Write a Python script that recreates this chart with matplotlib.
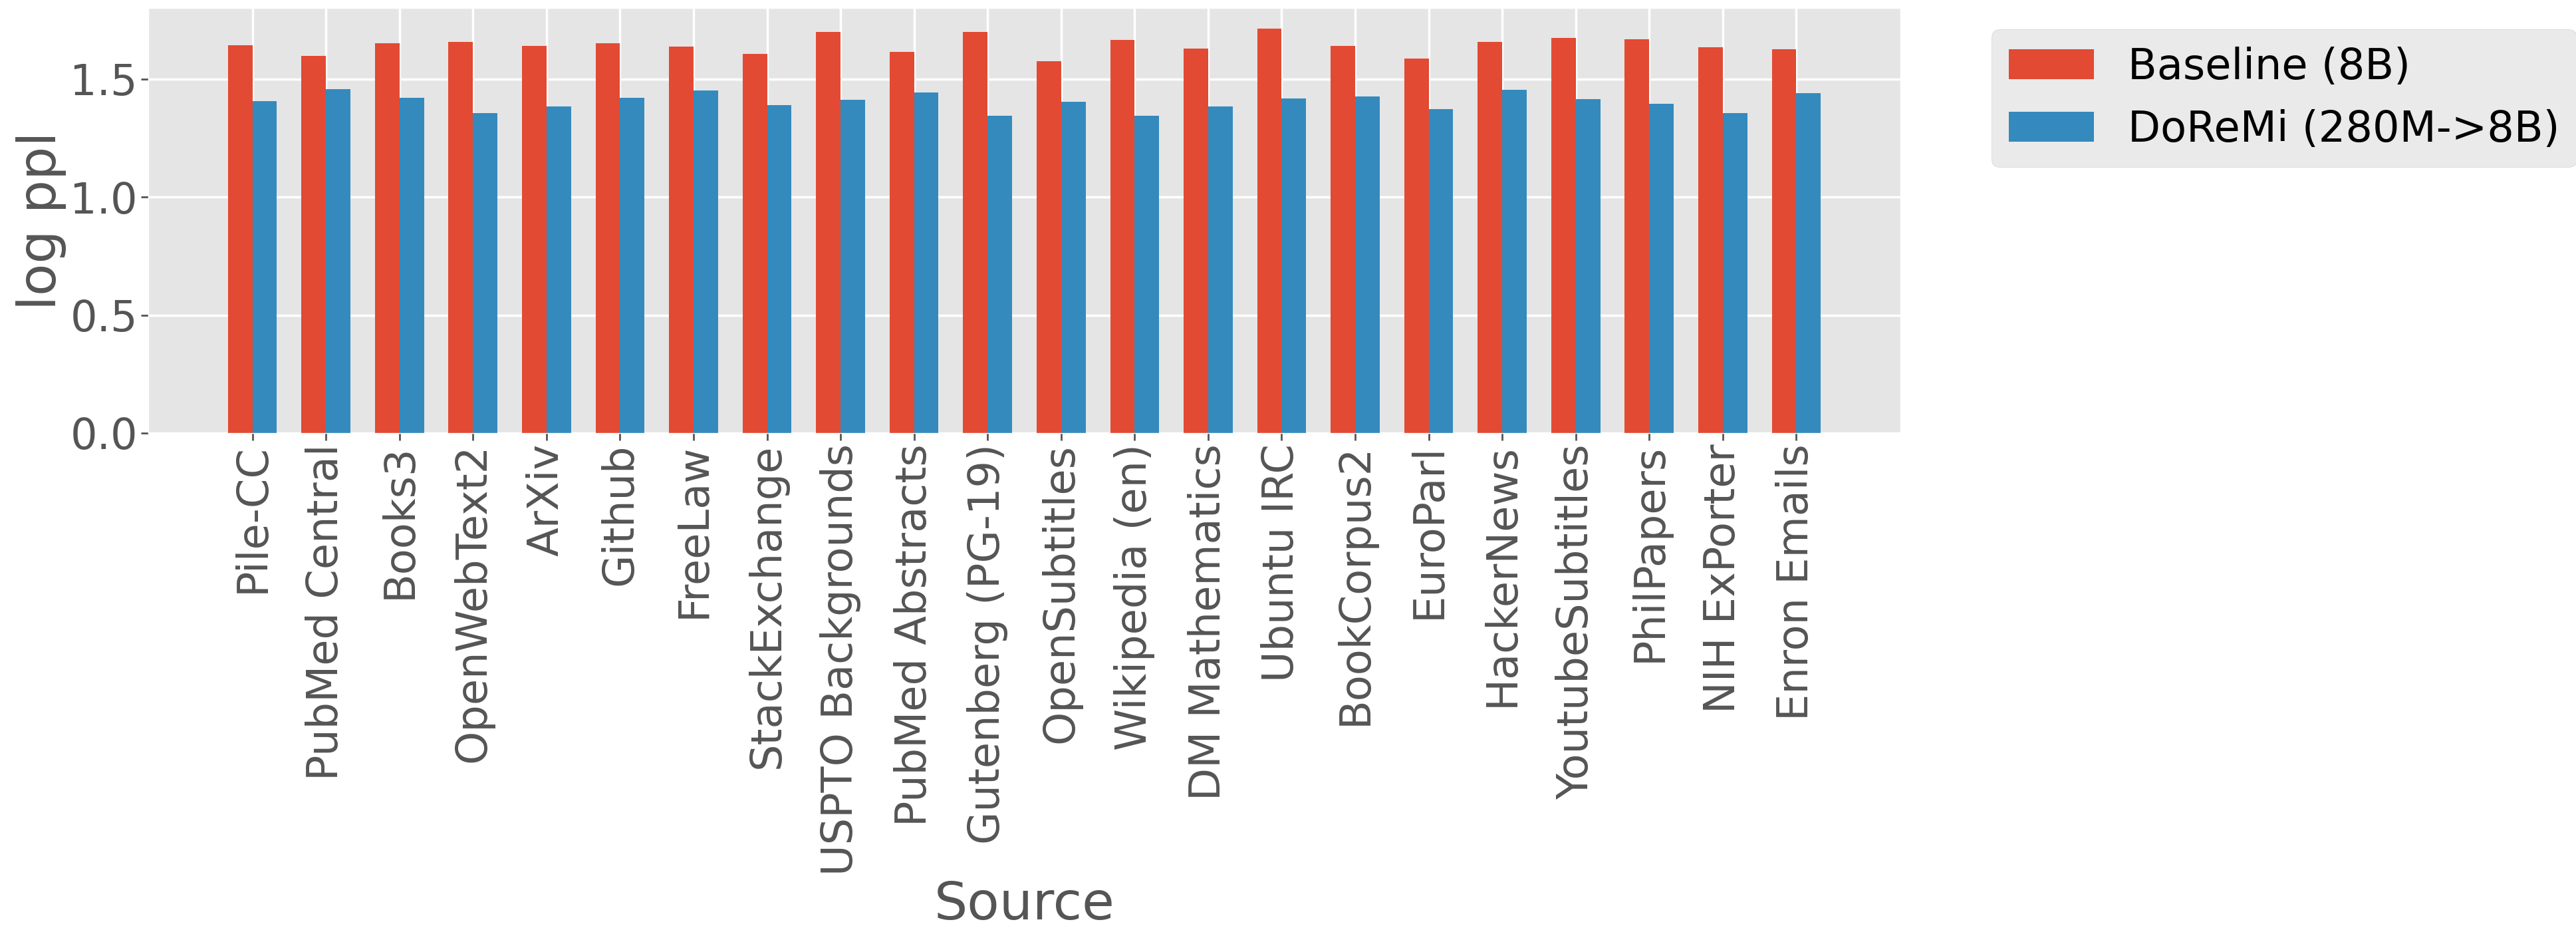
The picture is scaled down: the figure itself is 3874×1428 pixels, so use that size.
import matplotlib
matplotlib.use("Agg")
import matplotlib.pyplot as plt
import numpy as np

plt.style.use("ggplot")

sources = ["Pile-CC", "PubMed Central", "Books3", "OpenWebText2", "ArXiv", "Github",
           "FreeLaw", "StackExchange", "USPTO Backgrounds", "PubMed Abstracts",
           "Gutenberg (PG-19)", "OpenSubtitles", "Wikipedia (en)", "DM Mathematics",
           "Ubuntu IRC", "BookCorpus2", "EuroParl", "HackerNews", "YoutubeSubtitles",
           "PhilPapers", "NIH ExPorter", "Enron Emails"]
baseline = [1.643, 1.598, 1.650, 1.657, 1.640, 1.652, 1.637, 1.607, 1.700, 1.615,
            1.698, 1.575, 1.664, 1.629, 1.713, 1.639, 1.585, 1.657, 1.672, 1.668,
            1.633, 1.624]
doremi = [1.406, 1.456, 1.420, 1.356, 1.383, 1.421, 1.452, 1.390, 1.410, 1.441,
          1.345, 1.402, 1.343, 1.383, 1.416, 1.425, 1.373, 1.454, 1.415, 1.393,
          1.356, 1.439]
series_labels = ["Baseline (8B)", "DoReMi (280M->8B)"]

fig = plt.figure(figsize=(38.74, 14.28), dpi=100)
ax = fig.add_axes([0.05756, 0.54412, 0.68018, 0.44713])

x = np.arange(len(sources))
w = 0.333
ax.bar(x - w / 2, baseline, w, label=series_labels[0], color="#E24A33")
ax.bar(x + w / 2, doremi, w, label=series_labels[1], color="#348ABD")

ax.set_xticks(x)
ax.set_xticklabels(sources, rotation=90, fontsize=46)
ax.set_yticks([0.0, 0.5, 1.0, 1.5])
ax.set_yticklabels(["0.0", "0.5", "1.0", "1.5"], fontsize=46)
ax.tick_params(axis="both", length=8, width=2)
ax.set_xlabel("Source", fontsize=57)
ax.set_ylabel("log ppl", fontsize=57)
ax.grid(True, color="white", linewidth=2.5)

ax.legend(loc="upper left", bbox_to_anchor=(1.04, 1.0), fontsize=46)

fig.savefig("out.png", dpi=100)
